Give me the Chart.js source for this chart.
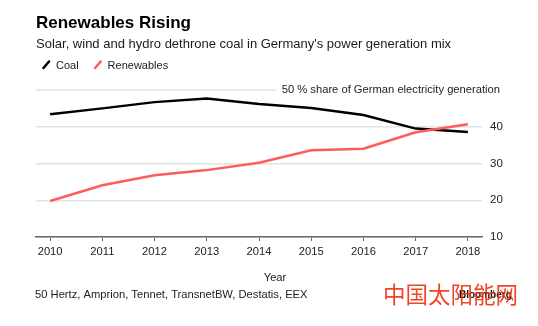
<!DOCTYPE html>
<html>
<head>
<meta charset="utf-8">
<script src="https://cdn.jsdelivr.net/npm/chart.js@4"></script>
<style>
  html, body { margin: 0; padding: 0; background: #fff; }
  #wrap { width: 538px; height: 326px; }
</style>
</head>
<body>
<div id="wrap"><canvas id="mixChart" width="538" height="326"></canvas></div>
<script>
// Share of German power generation, percent
const years = [2010, 2011, 2012, 2013, 2014, 2015, 2016, 2017, 2018];
const coalShare = [43.4, 45.0, 46.7, 47.7, 46.2, 45.1, 43.2, 39.5, 38.6];
const renewablesShare = [19.8, 24.1, 26.8, 28.2, 30.2, 33.6, 34.0, 38.5, 40.7];
const yTicks = [10, 20, 30, 40, 50];
const thresholdValue = 50;
const thresholdLabel = "50 % share of German electricity generation";

const FONT = '"Liberation Sans", Arial, Helvetica, sans-serif';
const COAL = "#000000";
const RENEW = "#ff5b5b";
const GRID = "#e2e2e2";

document.addEventListener("DOMContentLoaded", function () {

  // headline, legend, footer and the 50 % reference line
  const decorations = {
    id: "decorations",
    beforeDatasetsDraw(chart) {
      const { ctx, chartArea, scales } = chart;
      const py = scales.y.getPixelForValue(thresholdValue);
      ctx.save();
      ctx.font = `11.2px ${FONT}`;
      ctx.fillStyle = "#222";
      ctx.textAlign = "right";
      ctx.textBaseline = "middle";
      const right = chartArea.right + 18;
      const w = ctx.measureText(thresholdLabel).width;
      ctx.fillText(thresholdLabel, right, py);
      ctx.strokeStyle = GRID;
      ctx.lineWidth = 1.5;
      ctx.beginPath();
      ctx.moveTo(chartArea.left, py);
      ctx.lineTo(right - w - 6, py);
      ctx.stroke();
      ctx.restore();
    },
    afterDraw(chart) {
      const { ctx } = chart;
      ctx.save();
      ctx.textAlign = "left";
      ctx.textBaseline = "alphabetic";
      ctx.fillStyle = "#000";
      ctx.font = `bold 17px ${FONT}`;
      ctx.fillText("Renewables Rising", 36, 27.5);
      ctx.fillStyle = "#1a1a1a";
      ctx.font = `13px ${FONT}`;
      ctx.fillText("Solar, wind and hydro dethrone coal in Germany's power generation mix", 36, 47.5);

      // legend with slash markers
      let x = 43;
      ctx.font = `11px ${FONT}`;
      chart.data.datasets.slice().sort((a, b) => a.legendIndex - b.legendIndex).forEach(ds => {
        ctx.strokeStyle = ds.borderColor;
        ctx.lineWidth = 2.5;
        ctx.lineCap = "round";
        ctx.beginPath();
        ctx.moveTo(x + 0.5, 68);
        ctx.lineTo(x + 6, 61.5);
        ctx.stroke();
        ctx.fillStyle = "#222";
        ctx.fillText(ds.label, x + 13, 68.5);
        x += 13 + ctx.measureText(ds.label).width + 16;
      });

      // axis title and footer
      ctx.font = `11.2px ${FONT}`;
      ctx.fillStyle = "#222";
      ctx.textAlign = "center";
      ctx.fillText("Year", 275, 280.5);
      ctx.textAlign = "left";
      ctx.fillText("50 Hertz, Amprion, Tennet, TransnetBW, Destatis, EEX", 35, 297.5);
      ctx.fillStyle = "#111";
      ctx.font = `bold 10px ${FONT}`;
      ctx.fillText("Bloomberg", 459, 298);
      ctx.fillStyle = "rgba(238, 52, 20, 0.92)";
      ctx.font = `22.5px "Noto Sans CJK SC", sans-serif`;
      ctx.textBaseline = "middle";
      ctx.fillText("中国太阳能网", 383, 294.5);
      ctx.restore();
    }
  };

  const ctx = document.getElementById("mixChart").getContext("2d");
  new Chart(ctx, {
    type: "line",
    data: {
      labels: years,
      datasets: [
        {
          label: "Renewables",
          data: renewablesShare,
          borderColor: RENEW,
          borderWidth: 2.5,
          pointRadius: 0,
          fill: false,
          order: 1,
          legendIndex: 1
        },
        {
          label: "Coal",
          data: coalShare,
          borderColor: COAL,
          borderWidth: 2.5,
          pointRadius: 0,
          fill: false,
          order: 2,
          legendIndex: 0
        }
      ]
    },
    options: {
      responsive: false,
      animation: false,
      layout: { padding: { top: 90, left: 36, right: 0, bottom: 0 } },
      plugins: {
        legend: { display: false },
        title: { display: false },
        tooltip: { enabled: false }
      },
      scales: {
        x: {
          type: "linear",
          min: years[0] - 0.27,
          max: years[years.length - 1] + 0.27,
          afterBuildTicks: scale => { scale.ticks = years.map(v => ({ value: v })); },
          afterFit: scale => { scale.height = 89; },
          ticks: {
            callback: v => String(v),
            color: "#222",
            padding: 4,
            maxRotation: 0,
            font: { family: FONT, size: 11.2 }
          },
          grid: {
            drawOnChartArea: false,
            drawTicks: true,
            tickLength: 4,
            color: "#666",
            lineWidth: 1
          },
          border: { display: true, color: "#666", width: 1.5 }
        },
        y: {
          position: "right",
          min: 10,
          max: 50,
          afterBuildTicks: scale => { scale.ticks = yTicks.map(v => ({ value: v })); },
          afterFit: scale => { scale.width = 56; },
          ticks: {
            callback: v => (v === thresholdValue ? "" : String(v)),
            color: "#222",
            padding: 8,
            font: { family: FONT, size: 11.5 }
          },
          grid: {
            drawTicks: false,
            lineWidth: 1.5,
            color: c => (c.tick && c.tick.value === thresholdValue ? "rgba(0,0,0,0)" : GRID)
          },
          border: { display: false }
        }
      }
    },
    plugins: [decorations]
  });
});
</script>
</body>
</html>
